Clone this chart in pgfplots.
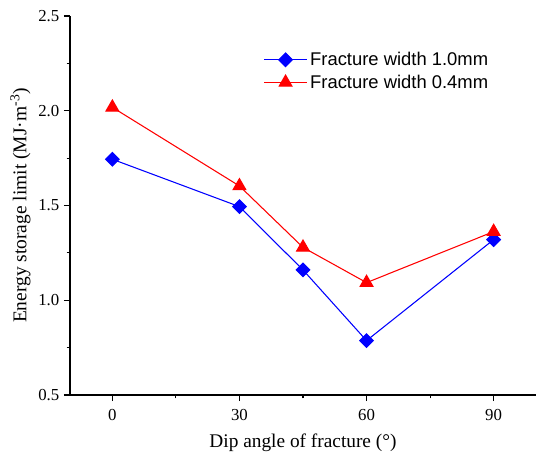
\documentclass[border=0pt]{standalone}
\usepackage{fontspec}
\setmainfont{Liberation Serif}
\newfontfamily\legfont{Liberation Sans}
\usepackage{pgfplots}
\pgfplotsset{compat=1.18}
\begin{document}
\begin{tikzpicture}
\useasboundingbox (-52.5pt,-47.25pt) rectangle (349.5pt,296.25pt);
\begin{axis}[
  at={(0pt,0pt)}, anchor=south west,
  scale only axis,
  width=349.5pt, height=284.25pt,
  xmin=-10, xmax=100, ymin=0.5, ymax=2.5,
  axis x line=bottom, axis y line=left,
  axis line style={-, line width=0.8pt},
  xtick={0,30,60,90}, minor xtick={15,45,75},
  ytick={0.5,1.0,1.5,2.0,2.5}, minor ytick={0.75,1.25,1.75,2.25},
  tick align=outside,
  major tick length=4.5pt, minor tick length=2.5pt,
  tick style={line width=0.8pt, black},
  yticklabel style={/pgf/number format/.cd, fixed, fixed zerofill, precision=1},
  /pgf/number format/assume math mode=true,
  tick label style={font=\fontsize{12.6}{14}\selectfont},
  xticklabel style={yshift=-3pt},
  xlabel={Dip angle of fracture (°)},
  ylabel={Energy storage limit (MJ·m\textsuperscript{-3})},
  xlabel style={font=\fontsize{14.5}{16}\selectfont, yshift=-3pt},
  ylabel style={font=\fontsize{14.6}{16}\selectfont, yshift=-1pt},
  legend style={at={(0.412,0.916)}, anchor=north west, draw=none, fill=none,
    font=\legfont\fontsize{13.8}{15}\selectfont, row sep=1.5pt, inner sep=1pt},
  legend cell align=left,
  legend image code/.code={
    \draw[#1, mark=none] (0cm,0cm) -- (1.13cm,0cm);
    \draw[#1, only marks] plot coordinates {(0.565cm,0cm)};
  },
]
\addplot[blue, line width=0.8pt, mark=square*, mark size=3.6pt,
  mark options={rotate=45, fill=blue, draw=blue}]
  coordinates {(0,1.744) (30,1.494) (45,1.160) (60,0.787) (90,1.320)};
\addlegendentry{Fracture width 1.0mm}
\addplot[red, line width=0.8pt, mark=triangle*, mark size=5.5pt,
  mark options={fill=red, draw=red}]
  coordinates {(0,2.018) (30,1.603) (45,1.279) (60,1.093) (90,1.362)};
\addlegendentry{Fracture width 0.4mm}
\end{axis}
\end{tikzpicture}
\end{document}
